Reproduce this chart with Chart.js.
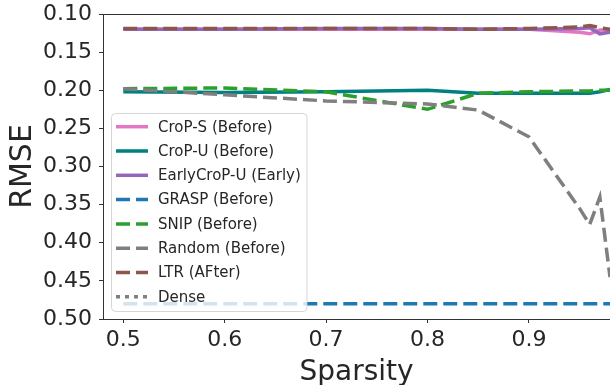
<!DOCTYPE html>
<html>
<head>
<meta charset="utf-8">
<script src="https://cdn.jsdelivr.net/npm/chart.js@4"></script>
<style>
  html, body { margin: 0; padding: 0; background: #fff; }
  #wrap { width: 610px; height: 385px; }
</style>
</head>
<body>
<div id="wrap"><canvas id="rmseChart" width="610" height="385"></canvas></div>
<script>
// Sparsity levels (x) and RMSE per method
const sparsity = [0.5, 0.6, 0.7, 0.8, 0.85, 0.9, 0.95, 0.96, 0.97, 0.98];

const cropS      = [0.120, 0.120, 0.120, 0.120, 0.120, 0.120, 0.124, 0.126, 0.121, 0.121];
const cropU      = [0.202, 0.203, 0.202, 0.200, 0.204, 0.204, 0.204, 0.204, 0.202, 0.199];
const earlyCropU = [0.120, 0.120, 0.119, 0.119, 0.120, 0.120, 0.119, 0.118, 0.126, 0.124];
const grasp      = [0.480, 0.480, 0.480, 0.480, 0.480, 0.480, 0.480, 0.480, 0.480, 0.480];
const snip       = [0.198, 0.197, 0.202, 0.225, 0.204, 0.202, 0.201, 0.201, 0.200, 0.200];
const random     = [0.198, 0.206, 0.214, 0.218, 0.226, 0.261, 0.355, 0.376, 0.340, 0.445];
const ltr        = [0.119, 0.119, 0.119, 0.119, 0.120, 0.119, 0.117, 0.115, 0.118, 0.120];
const dense      = []; // not visible inside the plotted range

const xTicks = [0.5, 0.6, 0.7, 0.8, 0.9];
const yTicks = [0.10, 0.15, 0.20, 0.25, 0.30, 0.35, 0.40, 0.45, 0.50];

const series = [
    { label: 'CroP-S (Before)',      data: cropS,      color: '#e377c2', dash: [] },
    { label: 'CroP-U (Before)',      data: cropU,      color: '#008080', dash: [] },
    { label: 'EarlyCroP-U (Early)',  data: earlyCropU, color: '#9467bd', dash: [] },
    { label: 'GRASP (Before)',       data: grasp,      color: '#1f77b4', dash: [14, 6] },
    { label: 'SNIP (Before)',        data: snip,       color: '#2ca02c', dash: [14, 6] },
    { label: 'Random (Before)',      data: random,     color: '#7f7f7f', dash: [14, 6] },
    { label: 'LTR (AFter)',          data: ltr,        color: '#8c564b', dash: [14, 6] },
    { label: 'Dense',                data: dense,      color: '#7f7f7f', dash: [4, 5] }
];

const textColor = '#262626';
const spineColor = '#333333';

// Top spine + matplotlib-style legend drawn over the lines
const frameAndLegend = {
    id: 'frameAndLegend',
    afterDatasetsDraw(chart) {
        const { ctx, chartArea } = chart;
        ctx.save();

        // top spine
        ctx.strokeStyle = spineColor;
        ctx.lineWidth = 1;
        ctx.beginPath();
        ctx.moveTo(chartArea.left, chartArea.top + 0.5);
        ctx.lineTo(chartArea.right, chartArea.top + 0.5);
        ctx.stroke();

        // legend frame
        const bx = 111.5, by = 113.5, bw = 195.5, bh = 198, r = 4;
        ctx.beginPath();
        ctx.roundRect(bx, by, bw, bh, r);
        ctx.fillStyle = 'rgba(255,255,255,0.8)';
        ctx.fill();
        ctx.strokeStyle = 'rgba(204,204,204,0.8)';
        ctx.stroke();

        ctx.font = '15px "DejaVu Sans"';
        ctx.textBaseline = 'middle';
        ctx.textAlign = 'left';
        series.forEach((s, i) => {
            const y = 126.7 + i * 24.3;
            ctx.strokeStyle = s.color;
            ctx.lineWidth = 3.5;
            ctx.lineCap = 'butt';
            ctx.setLineDash(s.dash);
            ctx.beginPath();
            ctx.moveTo(116, y);
            ctx.lineTo(148, y);
            ctx.stroke();
            ctx.setLineDash([]);
            ctx.fillStyle = textColor;
            ctx.fillText(s.label, 158, y + 1);
        });

        ctx.restore();
    }
};

const ctx = document.getElementById('rmseChart').getContext('2d');
new Chart(ctx, {
    type: 'line',
    data: {
        datasets: series.map((s, i) => ({
            label: s.label,
            data: s.data.map((v, j) => ({ x: sparsity[j], y: v })),
            borderColor: s.color,
            backgroundColor: s.color,
            borderWidth: 3.5,
            borderDash: s.dash,
            borderCapStyle: 'butt',
            pointRadius: 0,
            tension: 0,
            fill: false,
            order: series.length - i
        }))
    },
    options: {
        responsive: false,
        animation: false,
        devicePixelRatio: 1,
        layout: { padding: { top: 14, right: 0, left: 0, bottom: 0 } },
        plugins: {
            legend: { display: false },
            tooltip: { enabled: false }
        },
        scales: {
            x: {
                type: 'linear',
                min: 0.48,
                max: 0.98,
                afterBuildTicks: (axis) => { axis.ticks = xTicks.map(v => ({ value: v })); },
                afterFit: (axis) => { axis.height = 66; axis.paddingLeft = 0; axis.paddingRight = 0; },
                grid: { drawOnChartArea: false, tickLength: 4, tickColor: spineColor },
                border: { color: spineColor, width: 1 },
                ticks: {
                    color: textColor,
                    font: { family: 'DejaVu Sans', size: 22 },
                    padding: 4,
                    maxRotation: 0,
                    callback: (v) => v.toFixed(1)
                },
                title: {
                    display: true,
                    text: 'Sparsity',
                    color: textColor,
                    font: { family: 'DejaVu Sans', size: 28 },
                    padding: { top: 0, bottom: -5 }
                }
            },
            y: {
                type: 'linear',
                reverse: true,
                min: 0.10,
                max: 0.50,
                afterBuildTicks: (axis) => { axis.ticks = yTicks.map(v => ({ value: v })); },
                afterFit: (axis) => { axis.width = 103; axis.paddingTop = 0; axis.paddingBottom = 0; },
                grid: { drawOnChartArea: false, tickLength: 4, tickColor: spineColor },
                border: { color: spineColor, width: 1 },
                ticks: {
                    color: textColor,
                    font: { family: 'DejaVu Sans', size: 22 },
                    padding: 7,
                    callback: (v) => v.toFixed(2)
                },
                title: {
                    display: true,
                    text: 'RMSE',
                    color: textColor,
                    font: { family: 'DejaVu Sans', size: 30 },
                    padding: { top: 5, bottom: 0 }
                }
            }
        }
    },
    plugins: [frameAndLegend]
});
</script>
</body>
</html>
